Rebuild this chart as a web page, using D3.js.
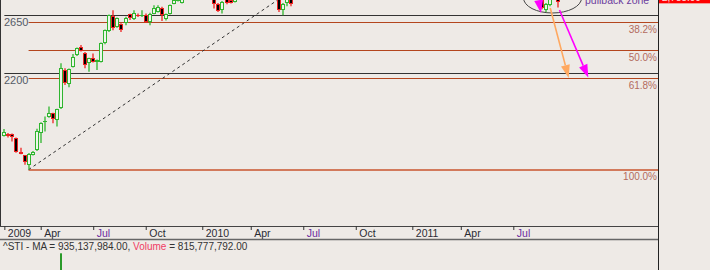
<!DOCTYPE html>
<html>
<head>
<meta charset="utf-8">
<script src="https://cdnjs.cloudflare.com/ajax/libs/d3/7.8.5/d3.min.js"></script>
<style>
  body { margin: 0; background: #eeeae6; }
  svg { display: block; }
  text { font-family: "Liberation Sans", Arial, sans-serif; }
</style>
</head>
<body>
<div class="chart"></div>
<script>
var svgWidth = 710;
var svgHeight = 270;

// weekly bars visible in the window: [week ending, open, high, low, close]
var candles = [
  ["2009-01-30", 1718, 1770, 1712, 1747],
  ["2009-02-06", 1734, 1740, 1705, 1713],
  ["2009-02-13", 1731, 1736, 1674, 1705],
  ["2009-02-20", 1701, 1705, 1588, 1593],
  ["2009-02-27", 1595, 1626, 1575, 1580],
  ["2009-03-06", 1567, 1570, 1495, 1516],
  ["2009-03-13", 1495, 1585, 1457, 1580],
  ["2009-03-20", 1572, 1600, 1565, 1593],
  ["2009-03-27", 1605, 1772, 1600, 1752],
  ["2009-04-03", 1739, 1822, 1662, 1816],
  ["2009-04-10", 1830, 1867, 1752, 1836],
  ["2009-04-17", 1863, 1944, 1858, 1893],
  ["2009-04-24", 1893, 1897, 1816, 1847],
  ["2009-05-01", 1842, 1928, 1790, 1924],
  ["2009-05-08", 1932, 2278, 1925, 2240],
  ["2009-05-15", 2227, 2240, 2111, 2129],
  ["2009-05-22", 2116, 2238, 2093, 2234],
  ["2009-05-29", 2252, 2350, 2245, 2329],
  ["2009-06-05", 2342, 2400, 2335, 2393],
  ["2009-06-12", 2406, 2419, 2370, 2375],
  ["2009-06-19", 2360, 2365, 2240, 2265],
  ["2009-06-26", 2278, 2322, 2213, 2317],
  ["2009-07-03", 2317, 2355, 2285, 2290],
  ["2009-07-10", 2286, 2308, 2227, 2303],
  ["2009-07-17", 2290, 2440, 2285, 2432],
  ["2009-07-24", 2432, 2540, 2425, 2534],
  ["2009-07-31", 2529, 2655, 2520, 2650],
  ["2009-08-07", 2642, 2689, 2534, 2548],
  ["2009-08-14", 2560, 2632, 2553, 2625],
  ["2009-08-21", 2581, 2588, 2521, 2534],
  ["2009-08-28", 2586, 2638, 2573, 2632],
  ["2009-09-04", 2658, 2662, 2612, 2625],
  ["2009-09-11", 2617, 2689, 2612, 2668],
  ["2009-09-18", 2655, 2663, 2637, 2648],
  ["2009-09-25", 2647, 2689, 2637, 2652],
  ["2009-10-02", 2650, 2663, 2592, 2598],
  ["2009-10-09", 2598, 2668, 2573, 2663],
  ["2009-10-16", 2663, 2727, 2658, 2702],
  ["2009-10-23", 2675, 2727, 2670, 2714],
  ["2009-10-30", 2709, 2715, 2606, 2650],
  ["2009-11-06", 2617, 2663, 2610, 2658],
  ["2009-11-13", 2658, 2733, 2655, 2727],
  ["2009-11-20", 2740, 2785, 2735, 2770],
  ["2009-11-27", 2762, 2790, 2755, 2775],
  ["2009-12-04", 2745, 2800, 2740, 2790],
  ["2010-01-29", 2850, 2870, 2702, 2735],
  ["2010-02-05", 2739, 2745, 2675, 2681],
  ["2010-02-12", 2689, 2760, 2663, 2752],
  ["2010-02-19", 2780, 2790, 2735, 2742],
  ["2010-02-26", 2770, 2778, 2740, 2745],
  ["2010-03-05", 2752, 2810, 2748, 2800],
  ["2010-05-21", 2790, 2810, 2675, 2694],
  ["2010-05-28", 2694, 2745, 2650, 2735],
  ["2010-06-04", 2745, 2790, 2719, 2780],
  ["2010-06-11", 2790, 2800, 2719, 2735],
  ["2011-08-19", 2790, 2800, 2696, 2704],
  ["2011-08-26", 2689, 2745, 2673, 2740],
  ["2011-09-02", 2727, 2800, 2719, 2790],
  ["2011-09-16", 2780, 2790, 2709, 2750]
];

// x axis ticks (first bar of each quarter)
var tickDates = ["2009-01-30", "2009-04-03", "2009-07-03", "2009-10-02", "2010-01-08",
  "2010-04-02", "2010-07-02", "2010-10-01", "2011-01-07", "2011-04-01", "2011-07-01"];
var tickLabels = ["2009", "Apr", "Jul", "Oct", "2010", "Apr", "Jul", "Oct", "2011", "Apr", "Jul"];

// horizontal price lines and their labels
var priceLines = [2650, 2200];
var priceLineLabels = ["2650", "2200"];

// fibonacci retracement from the March 2009 low
var fibStart = "2009-03-13";
var fibLow = 1456.95;
var fibHigh = 3300;
var fibLevels = [0.382, 0.5, 0.618, 1.0];
var fibLabels = ["38.2%", "50.0%", "61.8%", "100.0%"];

// dashed trend line from the low
var trendLine = [["2009-03-13", 1456.95], ["2010-05-21", 2775]];

// annotations: arrows [from, to] in date / price
var orangeArrow = [["2011-09-03", 2706], ["2011-10-05", 2165]];
var magentaArrow = [["2011-09-19", 2690], ["2011-11-08", 2168]];
var upperArrow = [["2011-07-26", 3231], ["2011-08-18", 2667]];
var zoneCentre = ["2011-09-07", 2783];

// volume panel (only the one big bar reaches into the window)
var volumes = [["2009-05-08", 2.95e9]];
var volumeMA = "935,137,984.00";
var volumeLast = "815,777,792.00";
var lastPrice = "2,788.00";

var parse = d3.timeParse("%Y-%m-%d");
var plotRight = 658;
var axisTop = 226;

var svg = d3.select(".chart")
  .append("svg")
  .attr("width", svgWidth)
  .attr("height", svgHeight);

svg.append("rect")
  .attr("width", svgWidth)
  .attr("height", svgHeight)
  .attr("fill", "#eeeae6");

var x = d3.scaleTime()
  .domain([parse("2009-04-03"), parse("2011-07-01")])
  .range([40.7, 513.3]);

var y = d3.scaleLinear()
  .domain([fibLow, 2650])
  .range([169.6, 15.2]);

var yVol = d3.scaleLinear()
  .domain([0, 3e9])
  .range([330, 252]);

var axisLeft = x(parse(tickDates[0]));

svg.append("defs").append("clipPath")
  .attr("id", "plot-clip")
  .append("rect")
  .attr("x", 0).attr("y", 0)
  .attr("width", plotRight).attr("height", axisTop);

var plot = svg.append("g").attr("clip-path", "url(#plot-clip)");

// horizontal price lines
plot.selectAll(".price-line")
  .data(priceLines)
  .enter()
  .append("line")
  .attr("x1", axisLeft)
  .attr("x2", plotRight)
  .attr("y1", d => Math.floor(y(d)) + 0.5)
  .attr("y2", d => Math.floor(y(d)) + 0.5)
  .attr("stroke", "#333")
  .attr("stroke-width", 1.2);

plot.selectAll(".price-label")
  .data(priceLines)
  .enter()
  .append("text")
  .attr("x", 4)
  .attr("y", d => y(d) + 10.8)
  .attr("font-size", "11px")
  .attr("fill", "#555a66")
  .text((d, i) => priceLineLabels[i]);

// fib levels
var fibX = x(parse(fibStart));
fibLevels.forEach(function(level, i) {
  var price = fibHigh - level * (fibHigh - fibLow);
  var yy = Math.floor(y(price)) + 0.5;
  plot.append("line")
    .attr("x1", fibX)
    .attr("x2", plotRight)
    .attr("y1", level === 1 ? yy + 0.5 : yy)
    .attr("y2", level === 1 ? yy + 0.5 : yy)
    .attr("stroke", level === 1 ? "#d27a5c" : "#b4461e")
    .attr("stroke-width", level === 1 ? 2 : 1);
  plot.append("text")
    .attr("x", plotRight - 1)
    .attr("y", yy + 10.8)
    .attr("text-anchor", "end")
    .attr("font-size", "10px")
    .attr("fill", "#b36a5e")
    .text(fibLabels[i]);
});

// trend line
plot.append("line")
  .attr("x1", x(parse(trendLine[0][0])))
  .attr("y1", y(trendLine[0][1]))
  .attr("x2", x(parse(trendLine[1][0])))
  .attr("y2", y(trendLine[1][1]))
  .attr("stroke", "#333")
  .attr("stroke-width", 1)
  .attr("stroke-dasharray", "3,3");

// candles
var upColor = "#2fb52f";
var downColor = "#ee2222";
var bars = plot.selectAll(".candle")
  .data(candles)
  .enter()
  .append("g")
  .attr("class", "candle");

function cx(d) { return Math.round(x(parse(d[0]))); }
function bodyTop(d) { return Math.round(y(Math.max(d[1], d[4]))); }
function bodyBot(d) { return Math.max(Math.round(y(Math.min(d[1], d[4]))), bodyTop(d) + 1); }
function colorOf(d) { return d[4] >= d[1] ? upColor : downColor; }

bars.append("line")
  .attr("x1", d => cx(d))
  .attr("x2", d => cx(d))
  .attr("y1", d => y(d[2]))
  .attr("y2", d => bodyTop(d))
  .attr("stroke", colorOf)
  .attr("stroke-width", 1.3);

bars.append("line")
  .attr("x1", d => cx(d))
  .attr("x2", d => cx(d))
  .attr("y1", d => bodyBot(d))
  .attr("y2", d => y(d[3]))
  .attr("stroke", colorOf)
  .attr("stroke-width", 1.3);

bars.append("rect")
  .attr("x", d => cx(d) - 1.5)
  .attr("y", d => bodyTop(d) + 0.5)
  .attr("width", 3)
  .attr("height", d => bodyBot(d) - bodyTop(d) - 1 > 0 ? bodyBot(d) - bodyTop(d) - 1 : 0.01)
  .attr("fill", d => d[4] >= d[1] ? "#eef6ea" : "#000")
  .attr("stroke", colorOf)
  .attr("stroke-width", 1);

// pullback zone annotation
plot.append("ellipse")
  .attr("cx", x(parse(zoneCentre[0])))
  .attr("cy", y(zoneCentre[1]))
  .attr("rx", 29)
  .attr("ry", 15)
  .attr("fill", "none")
  .attr("stroke", "#444")
  .attr("stroke-width", 1);

plot.append("text")
  .attr("x", 585)
  .attr("y", 4)
  .attr("font-size", "10.5px")
  .attr("fill", "#6c3d9e")
  .text("pullback zone");

function drawArrow(arrow, color) {
  var x1 = x(parse(arrow[0][0])), y1 = y(arrow[0][1]);
  var x2 = x(parse(arrow[1][0])), y2 = y(arrow[1][1]);
  var dx = x2 - x1, dy = y2 - y1;
  var len = Math.sqrt(dx * dx + dy * dy);
  var ux = dx / len, uy = dy / len;
  var bx = x2 - ux * 13, by = y2 - uy * 13;
  plot.append("line")
    .attr("x1", x1).attr("y1", y1)
    .attr("x2", bx).attr("y2", by)
    .attr("stroke", color)
    .attr("stroke-width", 1.6);
  plot.append("path")
    .attr("d", "M" + x2 + "," + y2 +
      "L" + (bx - uy * 4.5) + "," + (by + ux * 4.5) +
      "L" + (bx + uy * 4.5) + "," + (by - ux * 4.5) + "Z")
    .attr("fill", color);
}

drawArrow(upperArrow, "#ff00ff");
drawArrow(orangeArrow, "#ffa860");
drawArrow(magentaArrow, "#ff00ff");

// last price tag at the top right
svg.append("rect")
  .attr("x", plotRight + 1)
  .attr("y", y(2788) - 6)
  .attr("width", svgWidth - plotRight)
  .attr("height", 12)
  .attr("fill", "#ff0000");

svg.append("text")
  .attr("x", plotRight + 4)
  .attr("y", y(2788) + 4)
  .attr("font-size", "10px")
  .attr("fill", "#ffe0e0")
  .text(lastPrice);

// borders
svg.append("line")
  .attr("x1", 0.5).attr("x2", 0.5)
  .attr("y1", 0).attr("y2", axisTop)
  .attr("stroke", "#333");

svg.append("line")
  .attr("x1", plotRight + 0.5).attr("x2", plotRight + 0.5)
  .attr("y1", 0).attr("y2", svgHeight)
  .attr("stroke", "#222");

svg.append("line")
  .attr("x1", 0).attr("x2", plotRight)
  .attr("y1", axisTop + 0.5).attr("y2", axisTop + 0.5)
  .attr("stroke", "#444");

svg.append("line")
  .attr("x1", 0).attr("x2", plotRight)
  .attr("y1", axisTop + 13.5).attr("y2", axisTop + 13.5)
  .attr("stroke", "#666")
  .attr("stroke-width", 1.3);

// x axis
var bottomAxis = d3.axisBottom(x)
  .tickValues(tickDates.map(parse))
  .tickSize(4)
  .tickFormat((d, i) => tickLabels[i]);

var xAxis = svg.append("g")
  .attr("transform", `translate(0, ${axisTop})`)
  .call(bottomAxis);

xAxis.select(".domain").remove();
xAxis.selectAll(".tick line").attr("stroke", "#333");
xAxis.selectAll(".tick text")
  .attr("text-anchor", "start")
  .attr("x", 3)
  .attr("y", 10.5)
  .attr("dy", 0)
  .attr("font-size", "10.5px")
  .attr("font-family", "'Liberation Sans', Arial, sans-serif")
  .attr("fill", (d, i) => tickLabels[i] === "Jul" ? "#6a2aa0" : "#2a2a33");

// volume panel
var volText = svg.append("text")
  .attr("x", 3)
  .attr("y", 249.5)
  .attr("font-size", "10px")
  .attr("fill", "#333");
volText.append("tspan").text("^STI - MA = " + volumeMA + ", ");
volText.append("tspan").attr("fill", "#f03c64").text("Volume");
volText.append("tspan").text(" = " + volumeLast);

svg.selectAll(".vol")
  .data(volumes)
  .enter()
  .append("rect")
  .attr("x", d => Math.round(x(parse(d[0]))) - 1)
  .attr("y", d => yVol(d[1]))
  .attr("width", 2)
  .attr("height", d => svgHeight - yVol(d[1]))
  .attr("fill", "#2a9a2a");
</script>
</body>
</html>
